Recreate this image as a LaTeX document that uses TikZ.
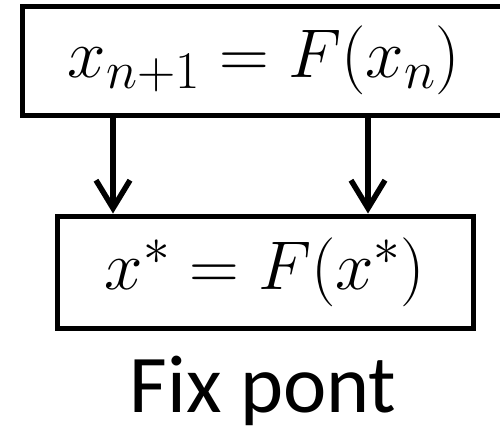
\RequirePackage{fix-cm}
\documentclass[tikz,border=0pt]{standalone}
\usepackage{fontspec}
\newfontfamily\labelfont{Carlito}
\DeclareMathSizes{69}{69}{53}{40}
\usetikzlibrary{arrows.meta, positioning}

\begin{document}
\begin{tikzpicture}[x=1pt, y=-1pt,
    every node/.style={font=\fontsize{69}{76}\selectfont},
    eqbox/.style={draw, line width=5pt, inner sep=0pt, align=center},
    arr/.style={-{Straight Barb[length=28pt,width=34pt]}, line width=5.5pt}
]
    \useasboundingbox (0,0) rectangle (500,432);

    % Iteration and fixed point
    \node[eqbox, minimum width=484pt, minimum height=109pt] (iter) at (264,60.5) {$x_{n+1} = F(x_n)$};
    \node[eqbox, minimum width=416pt, minimum height=112pt] (fix) at (265,272) {$x^* = F(x^*)$};
    \node[font=\labelfont\fontsize{82}{90}\selectfont, anchor=base] (caption) at (263,412) {Fix pont};

    % Arrows
    \coordinate (arrowL) at (113,0);
    \coordinate (arrowR) at (368,0);
    \draw[arr] (iter.south -| arrowL) -- (fix.north -| arrowL);
    \draw[arr] (iter.south -| arrowR) -- (fix.north -| arrowR);
\end{tikzpicture}
\end{document}
